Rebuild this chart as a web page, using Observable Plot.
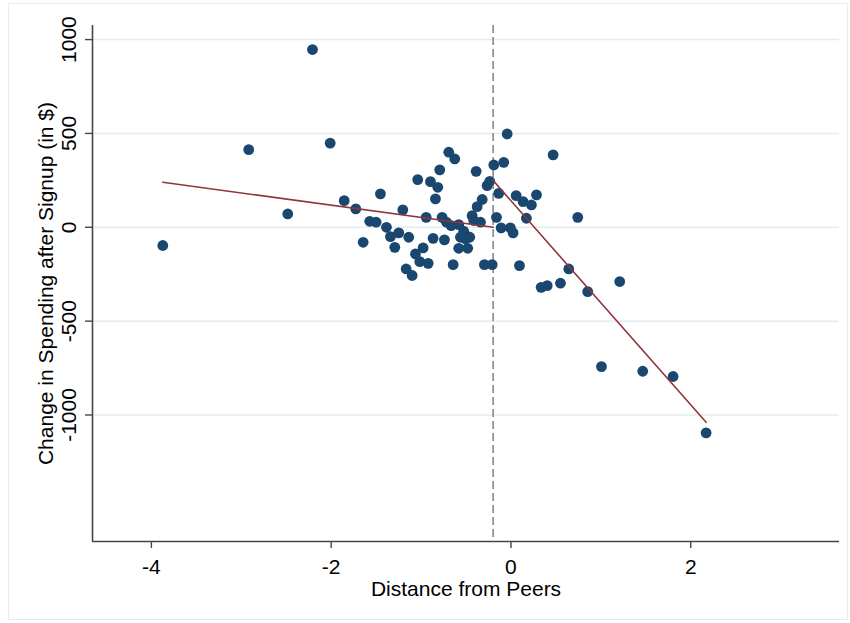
<!DOCTYPE html>
<html>
<head>
<meta charset="utf-8">
<script src="https://cdn.jsdelivr.net/npm/d3@7"></script>
<script src="https://cdn.jsdelivr.net/npm/@observablehq/plot@0.6"></script>
<style>
  body { margin: 0; background: #fff; font-family: "Liberation Sans", Arial, sans-serif; }
  #wrap { position: relative; width: 850px; height: 623px; }
  #border { position: absolute; left: 8px; top: 3px; width: 838px; height: 615px; border: 1px solid #e6edf0; pointer-events: none; }
</style>
</head>
<body>
<div id="wrap"><div id="border"></div></div>
<script>
// Scatter values (Distance from Peers, Change in Spending)
const distance = [
  -3.873, -2.917, -2.483, -2.208, -2.011, -1.855, -1.726, -1.571, -1.500, -1.644,
  -1.452, -1.385, -1.340, -1.292, -1.248, -1.203, -1.137, -1.166, -1.099, -1.037,
  -1.062, -0.977, -1.014, -0.921, -0.943, -0.895, -0.814, -0.840, -0.792, -0.866,
  -0.766, -0.740, -0.692, -0.625, -0.717, -0.665, -0.643, -0.581, -0.562, -0.581,
  -0.525, -0.506, -0.481, -0.458, -0.432, -0.387, -0.376, -0.320, -0.339, -0.295,
  -0.209, -0.265, -0.236, -0.191, -0.080, -0.042, -0.136, -0.161, -0.109, -0.006,
   0.024,  0.058,  0.095,  0.135,  0.172,  0.469,  0.228,  0.284,  0.743,  0.643,
   0.551,  0.336,  0.403,  1.210,  0.854,  1.007,  1.466,  1.804,  2.171, -0.414
];
const spending = [
   -97,  414,   71,  947,  448,  142,   98,   32,   27,  -80,
   178,    0,  -50, -107,  -30,   93,  -53, -222, -257,  254,
  -142, -110, -183, -192,   53,  243,  213,  151,  306,  -59,
    53,  -67,  400,  364,   27,    9, -199,   14,  -53, -112,
   -21,  -62, -112,  -53,   62,  298,  110,  148,   27, -199,
  -199,  222,  245,  332,  346,  497,  181,   53,   -3,   -3,
   -30,  169, -204,  137,   48,  386,  119,  173,   53, -222,
  -298, -320, -311, -289, -343, -742, -767, -795, -1095,  36
];
// Fitted line endpoints (left and right of cutoff)
const leftFitX = [-3.873, -0.198];
const leftFitY = [240, 0];
const rightFitX = [-0.198, 2.171];
const rightFitY = [249, -1039];
const cutoff = [-0.198];

const xTicks = [-4, -2, 0, 2];
const yTicks = [1000, 500, 0, -500, -1000];
const xDomain = [-4.655, 3.655];
const yDomain = [-1674, 1075];
const xTitle = "Distance from Peers";
const yTitle = "Change in Spending after Signup (in $)";

const points = distance.map((d, i) => ({x: d, y: spending[i]}));
const leftFit = leftFitX.map((d, i) => ({x: d, y: leftFitY[i]}));
const rightFit = rightFitX.map((d, i) => ({x: d, y: rightFitY[i]}));

const navy = "#1a476f", maroon = "#90353b", axisCol = "#454545";
const fmt = d => String(d);

const chart = Plot.plot({
  width: 850,
  height: 623,
  marginLeft: 92,
  marginRight: 11,
  marginTop: 25,
  marginBottom: 82,
  style: {fontFamily: "'Liberation Sans', Arial, sans-serif", fontSize: "21px", color: "#000", background: "transparent"},
  x: {domain: xDomain},
  y: {domain: yDomain},
  marks: [
    Plot.gridY(yTicks, {stroke: "#e3ecef", strokeOpacity: 1, strokeWidth: 1.5}),
    Plot.ruleX(cutoff, {stroke: "#808080", strokeWidth: 1.5, strokeDasharray: "8,4"}),
    Plot.dot(points, {x: "x", y: "y", r: 5.4, fill: navy, stroke: null}),
    Plot.line(leftFit, {x: "x", y: "y", stroke: maroon, strokeWidth: 1.6}),
    Plot.line(rightFit, {x: "x", y: "y", stroke: maroon, strokeWidth: 1.6}),
    Plot.ruleX([xDomain[0]], {stroke: axisCol, strokeWidth: 1.6}),
    Plot.ruleY([yDomain[0]], {stroke: axisCol, strokeWidth: 1.6}),
    Plot.axisX(xTicks, {tickSize: 7, tickPadding: 11, tickFormat: fmt, stroke: axisCol, strokeWidth: 1.4, fontSize: 21, fill: "#000", label: null}),
    Plot.axisY(yTicks, {tickSize: 7, tickPadding: 10, tickFormat: fmt, tickRotate: -90, stroke: axisCol, strokeWidth: 1.4, fontSize: 21, fill: "#000", label: null}),
    Plot.text([xTitle], {frameAnchor: "bottom", dy: 54, lineAnchor: "bottom", textAnchor: "middle", fontSize: 21, fill: "#000"}),
    Plot.text([yTitle], {frameAnchor: "left", dx: -40, rotate: -90, lineAnchor: "bottom", textAnchor: "middle", fontSize: 21, fill: "#000"})
  ]
});
chart.style.position = "absolute";
chart.style.left = "0px";
chart.style.top = "0px";
document.getElementById("wrap").appendChild(chart);
</script>
</body>
</html>
